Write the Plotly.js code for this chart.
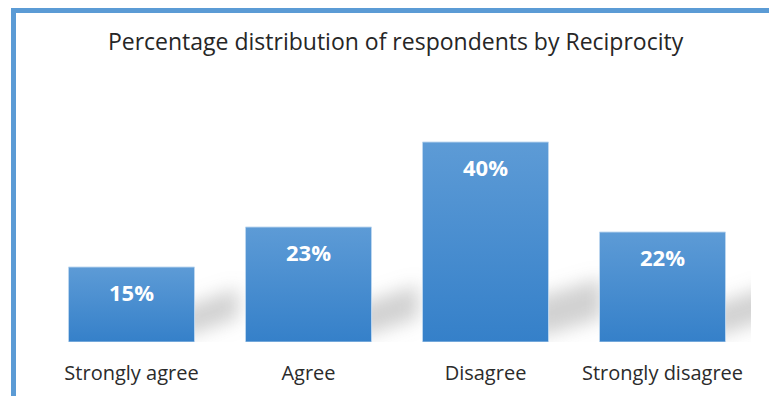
<!DOCTYPE html>
<html>
<head>
<meta charset="utf-8">
<script src="https://cdn.plot.ly/plotly-3.0.1.min.js"></script>
<style>
  html, body { margin: 0; padding: 0; background: #ffffff; }
  #wrap { position: relative; width: 769px; height: 396px; overflow: hidden; }
  #chart { position: absolute; left: 0; top: 0; width: 769px; height: 396px; }
  #frame { position: absolute; left: 11px; top: 8px; width: 800px; height: 420px;
           border-left: 5px solid #5b9bd5; border-top: 5px solid #5b9bd5; pointer-events: none; }
</style>
</head>
<body>
<div id="wrap">
  <div id="chart"></div>
  <div id="frame"></div>
</div>
<script>
// ---- data ----
const categories = ["Strongly agree", "Agree", "Disagree", "Strongly disagree"];
const percentages = [15, 23, 40, 22];
const valueLabels = ["15%", "23%", "40%", "22%"];
const chartTitle = "Percentage distribution of respondents by Reciprocity";

const trace = {
  type: "bar",
  x: categories,
  y: percentages,
  marker: { color: "#4a8fd0", line: { color: "rgba(190,215,240,0.9)", width: 1 } },
  hoverinfo: "none"
};

const annotations = categories.map((c, i) => ({
  x: c, y: percentages[i], xref: "x", yref: "y",
  text: valueLabels[i], showarrow: false,
  yanchor: "top", yshift: -8,
  font: { family: "Open Sans", size: 22, color: "#ffffff", weight: 700 }
}));

const layout = {
  width: 769, height: 396,
  margin: { l: 43, r: 18, t: 122, b: 54 },
  paper_bgcolor: "#ffffff", plot_bgcolor: "#ffffff",
  bargap: 0.288,
  showlegend: false,
  title: {
    text: chartTitle,
    font: { family: "Open Sans", size: 23, color: "#262626" },
    x: 0.498, xanchor: "center", xref: "paper",
    y: 1 - 42 / 396, yanchor: "middle", yref: "container"
  },
  xaxis: {
    showgrid: false, showline: false, zeroline: false, ticks: "",
    tickfont: { family: "Open Sans", size: 20, color: "#2b2b2b" },
    ticklabelstandoff: 17,
    fixedrange: true
  },
  yaxis: { range: [0, 44], visible: false, showgrid: false, zeroline: false, fixedrange: true },
  annotations: annotations
};

Plotly.newPlot("chart", [trace], layout, { displayModeBar: false, staticPlot: true }).then(gd => {
  const NS = "http://www.w3.org/2000/svg";
  const svg = gd.querySelector(".main-svg");
  let defs = svg.querySelector("defs");
  if (!defs) { defs = document.createElementNS(NS, "defs"); svg.insertBefore(defs, svg.firstChild); }

  const grad = document.createElementNS(NS, "linearGradient");
  grad.setAttribute("id", "barGrad");
  grad.setAttribute("x1", "0"); grad.setAttribute("y1", "0");
  grad.setAttribute("x2", "0"); grad.setAttribute("y2", "1");
  [["0%", "#5d9bd6"], ["100%", "#3580c9"]].forEach(([o, c]) => {
    const s = document.createElementNS(NS, "stop");
    s.setAttribute("offset", o); s.setAttribute("stop-color", c);
    grad.appendChild(s);
  });
  defs.appendChild(grad);

  const filt = document.createElementNS(NS, "filter");
  filt.setAttribute("id", "shBlur");
  filt.setAttribute("x", "-50%"); filt.setAttribute("y", "-50%");
  filt.setAttribute("width", "200%"); filt.setAttribute("height", "200%");
  const fb = document.createElementNS(NS, "feGaussianBlur");
  fb.setAttribute("stdDeviation", "9");
  filt.appendChild(fb);
  defs.appendChild(filt);

  gd.querySelectorAll(".bars .point path").forEach(p => {
    p.style.fill = "url(#barGrad)";
  });

  // soft floor shadows behind each bar
  const xa = gd._fullLayout.xaxis, ya = gd._fullLayout.yaxis;
  const barLayer = gd.querySelector(".barlayer");
  const g = document.createElementNS(NS, "g");
  g.setAttribute("filter", "url(#shBlur)");
  const halfW = (1 - layout.bargap) / 2;
  percentages.forEach((v, i) => {
    const xr = xa.l2p(i + halfW);
    const yb = ya.l2p(0);
    const h = yb - ya.l2p(v);
    const L = 38 + h * 0.08;
    const thick = 24 + h * 0.08;
    const rise = 20;
    const poly = document.createElementNS(NS, "polygon");
    const pts = [
      [xr - 14, yb - 4],
      [xr - 14, yb - 4 - thick],
      [xr + L, yb - 4 - thick - rise],
      [xr + L, yb - 4 - rise]
    ];
    poly.setAttribute("points", pts.map(q => q.join(",")).join(" "));
    poly.setAttribute("fill", "#9a9a9a");
    poly.setAttribute("fill-opacity", "0.45");
    g.appendChild(poly);
  });
  barLayer.parentNode.insertBefore(g, barLayer);
});
</script>
</body>
</html>
